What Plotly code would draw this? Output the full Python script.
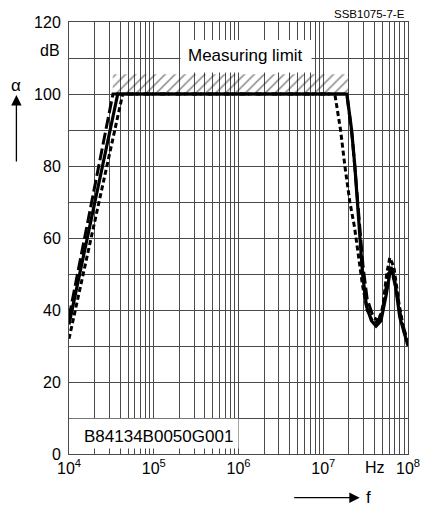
import plotly.graph_objects as go

# ---- data ----
freq_solid = [1.0e4, 3.76e4, 1.9e7, 2.16e7, 2.36e7, 2.54e7, 2.71e7, 2.91e7, 3.24e7, 3.7e7,
              4.2e7, 4.8e7, 5.5e7, 6.3e7, 7.0e7, 8.0e7, 1.0e8]
att_solid = [36, 100, 100, 90, 80, 70, 60, 50, 41, 37, 35.5, 37, 44, 52, 48, 38, 30]

freq_longdash = [1.0e4, 3.3e4, 1.9e7, 2.2e7, 2.45e7, 2.7e7, 2.95e7, 3.3e7, 3.9e7, 4.5e7,
                 5.2e7, 5.8e7, 6.4e7, 7.2e7, 8.4e7, 1.0e8]
att_longdash = [38, 100, 100, 88, 75, 62, 52, 43, 38, 37, 42, 50, 51, 46, 37, 31]

freq_shortdash = [1.0e4, 4.3e4, 1.37e7, 1.6e7, 1.8e7, 2.06e7, 2.34e7, 2.6e7, 2.9e7, 3.3e7,
                  3.8e7, 4.4e7, 5.0e7, 5.6e7, 6.1e7, 6.8e7, 7.8e7, 9.0e7, 1.0e8]
att_shortdash = [32, 100, 100, 90, 80, 70, 63, 55, 47, 40, 37, 36.5, 40, 50, 54.5, 52, 42, 34, 31]

limit_freq = [3.28e4, 1.95e7]
limit_att = [100, 105.5]

x_tick_vals = [1e4, 1e5, 1e6, 1e7, 1e8]
x_tick_text = ["10<sup>4</sup>", "10<sup>5</sup>", "10<sup>6</sup>", "10<sup>7</sup>", "10<sup>8</sup>"]
x_minor_vals = [m * 10 ** d for d in range(4, 8) for m in range(2, 10)]
y_tick_vals = [0, 20, 40, 60, 80, 100, 120]

FONT = "Liberation Sans, Arial, Helvetica, sans-serif"
GRID = "#4a4a4a"

fig = go.Figure()

# hatched "measuring limit" band
fig.add_trace(go.Scatter(
    x=[limit_freq[0], limit_freq[1], limit_freq[1], limit_freq[0], limit_freq[0]],
    y=[limit_att[0], limit_att[0], limit_att[1], limit_att[1], limit_att[0]],
    mode="lines", fill="toself", line=dict(width=0, color="rgba(0,0,0,0)"),
    fillcolor="rgba(0,0,0,0)",
    fillpattern=dict(shape="/", size=7, solidity=0.2, fgcolor="black",
                     bgcolor="rgba(0,0,0,0)", fillmode="overlay"),
    hoverinfo="skip", showlegend=False))

fig.add_trace(go.Scatter(x=freq_shortdash, y=att_shortdash, mode="lines",
                         line=dict(color="black", width=3, dash="5px,3px"), showlegend=False))
fig.add_trace(go.Scatter(x=freq_longdash, y=att_longdash, mode="lines",
                         line=dict(color="black", width=3, dash="12px,4px"), showlegend=False))
fig.add_trace(go.Scatter(x=freq_solid, y=att_solid, mode="lines",
                         line=dict(color="black", width=3.2), showlegend=False))

# white label boxes covering the grid
fig.add_shape(type="rect", xref="x", yref="y", x0=10 ** 4.004, x1=1e6, y0=1.5, y1=9.8,
              fillcolor="white", line=dict(width=0), layer="between")
fig.add_shape(type="rect", xref="x", yref="y", x0=10 ** 5.315, x1=10 ** 6.862, y0=106, y1=115,
              fillcolor="white", line=dict(width=0), layer="between")

# page has an 8px body margin: figure origin sits at (8, 8) in the window
OX, OY = 8, 8
L, T, PW, PH = 69 - OX, 22 - OY, 339, 432
W, H = 432 - OX, 506 - OY


def px_x(px):
    return (px - 69.3) / PW


def px_y(py):
    return (454 - py) / PH


ann = []
ann.append(dict(text="B84134B0050G001", x=4.151, y=4.8, xref="x", yref="y",
                xanchor="left", yanchor="middle", showarrow=False, font=dict(size=17)))
ann.append(dict(text="Measuring limit", x=6.086, y=110.7, xref="x", yref="y",
                xanchor="center", yanchor="middle", showarrow=False, font=dict(size=17)))
ann.append(dict(text="dB", x=px_x(62), y=112, xref="paper", yref="y",
                xanchor="right", yanchor="middle", showarrow=False, font=dict(size=16)))
ann.append(dict(text="Hz", x=7.61, y=px_y(467), xref="x", yref="paper",
                xanchor="center", yanchor="middle", showarrow=False, font=dict(size=16)))
ann.append(dict(text="SSB1075-7-E", x=px_x(407), y=px_y(14.5), xref="paper", yref="paper",
                xanchor="right", yanchor="middle", showarrow=False, font=dict(size=11.5)))
ann.append(dict(text="α", x=px_x(16.7), y=px_y(85), xref="paper", yref="paper",
                xanchor="center", yanchor="middle", showarrow=False, font=dict(size=17)))
ann.append(dict(text="f", x=px_x(369), y=px_y(497), xref="paper", yref="paper",
                xanchor="center", yanchor="middle", showarrow=False, font=dict(size=17)))
# arrows
ann.append(dict(text="", x=px_x(16.7), y=px_y(95), xref="paper", yref="paper",
                ax=0, ay=68, axref="pixel", ayref="pixel", showarrow=True,
                arrowhead=2, arrowsize=1.6, arrowwidth=1.3, arrowcolor="black"))
ann.append(dict(text="", x=px_x(360), y=px_y(497.7), xref="paper", yref="paper",
                ax=-67, ay=0, axref="pixel", ayref="pixel", showarrow=True,
                arrowhead=2, arrowsize=1.6, arrowwidth=1.3, arrowcolor="black"))

fig.update_layout(
    width=W, height=H,
    margin=dict(l=L, r=W - L - PW, t=T, b=H - T - PH, autoexpand=False),
    paper_bgcolor="white", plot_bgcolor="white",
    font=dict(family=FONT, size=16, color="black"),
    annotations=ann,
    xaxis=dict(type="log", range=[4, 8], tickmode="array", tickvals=x_tick_vals,
               ticktext=x_tick_text, showgrid=True, gridcolor=GRID, gridwidth=1,
               minor=dict(tickmode="array", tickvals=x_minor_vals, showgrid=True,
                          gridcolor=GRID, gridwidth=1, ticks=""),
               showline=True, linecolor=GRID, linewidth=1, mirror=True,
               ticks="", zeroline=False, tickfont=dict(size=16)),
    yaxis=dict(range=[0, 120], tickmode="array", tickvals=y_tick_vals,
               showgrid=True, gridcolor=GRID, gridwidth=1,
               minor=dict(dtick=10, showgrid=True, gridcolor=GRID, gridwidth=1, ticks=""),
               showline=True, linecolor=GRID, linewidth=1, mirror=True,
               ticks="", zeroline=False, tickfont=dict(size=16), ticklabelstandoff=4),
)

fig.write_html("out.html")
